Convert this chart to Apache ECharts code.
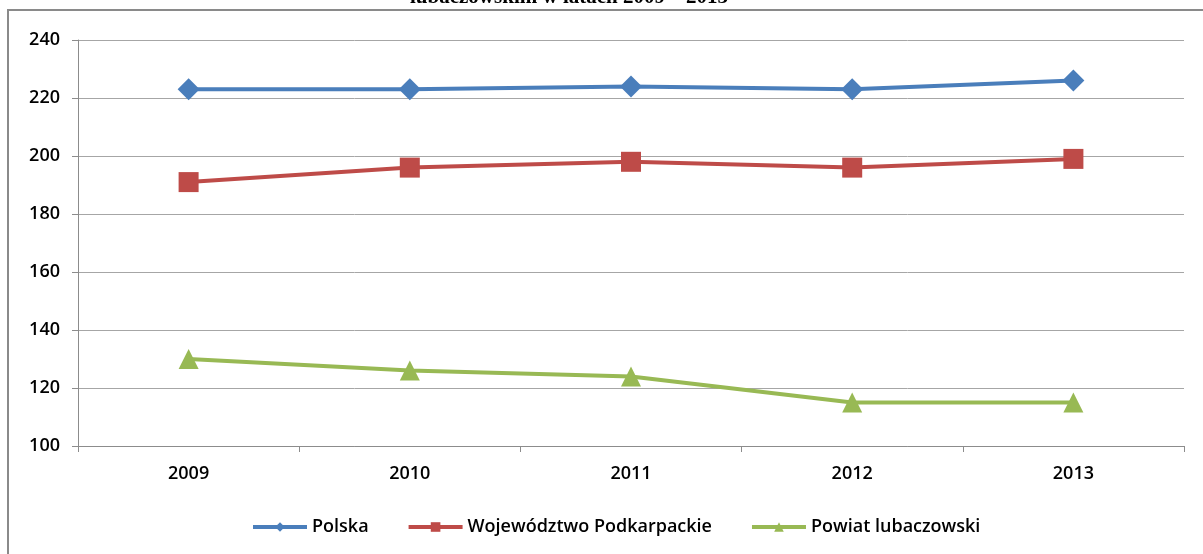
<!DOCTYPE html>
<html>
<head>
<meta charset="utf-8">
<script src="https://cdn.jsdelivr.net/npm/echarts@6/dist/echarts.min.js"></script>
<style>
  html, body { margin: 0; padding: 0; background: #fff; }
  #chart { width: 1203px; height: 554px; }
</style>
</head>
<body>
<div id="chart"></div>
<script>
const years = ['2009', '2010', '2011', '2012', '2013'];
const polska = [223, 223, 224, 223, 226];
const podkarpackie = [191, 196, 198, 196, 199];
const lubaczowski = [130, 126, 124, 115, 115];

const labelFont = { fontFamily: 'Open Sans', fontSize: 18, fontWeight: 600, color: '#000' };

const chart = echarts.init(document.getElementById('chart'));
chart.setOption({
  animation: false,
  backgroundColor: '#fff',
  graphic: [
    {
      type: 'rect',
      shape: { x: 8, y: 10, width: 1400, height: 800 },
      style: { fill: 'none', stroke: '#8a8a8a', lineWidth: 2 },
      silent: true
    },
    {
      type: 'text',
      x: 569,
      y: -2,
      style: {
        text: 'lubaczowskim w latach 2009 – 2013',
        font: 'bold 21px "Liberation Serif"',
        fill: '#000',
        align: 'center',
        verticalAlign: 'middle'
      }
    }
  ],
  grid: { left: 78, right: 19, top: 40, bottom: 108 },
  legend: {
    top: 513,
    left: 246,
    itemWidth: 54,
    itemHeight: 12,
    itemGap: 38,
    lineStyle: { width: 4 },
    textStyle: labelFont
  },
  xAxis: {
    type: 'category',
    data: years,
    boundaryGap: true,
    axisLine: { lineStyle: { color: '#8c8c8c', width: 1 } },
    axisTick: { show: true, length: 6, lineStyle: { color: '#8c8c8c' } },
    axisLabel: Object.assign({ margin: 19 }, labelFont)
  },
  yAxis: {
    type: 'value',
    min: 100,
    max: 240,
    interval: 20,
    axisLine: { show: true, lineStyle: { color: '#8c8c8c', width: 1 } },
    axisTick: { show: true, length: 6, lineStyle: { color: '#8c8c8c' } },
    axisLabel: Object.assign({ margin: 18 }, labelFont),
    splitLine: { lineStyle: { color: '#a6a6a6', width: 1 } }
  },
  series: [
    {
      name: 'Polska',
      type: 'line',
      data: polska,
      symbol: 'diamond',
      symbolSize: 22,
      color: '#4a7ebb',
      lineStyle: { width: 4 }
    },
    {
      name: 'Województwo Podkarpackie',
      type: 'line',
      data: podkarpackie,
      symbol: 'rect',
      symbolSize: 20,
      color: '#be4b48',
      lineStyle: { width: 4 }
    },
    {
      name: 'Powiat lubaczowski',
      type: 'line',
      data: lubaczowski,
      symbol: 'triangle',
      symbolSize: 20,
      color: '#98b954',
      lineStyle: { width: 4 }
    }
  ]
});
</script>
</body>
</html>
